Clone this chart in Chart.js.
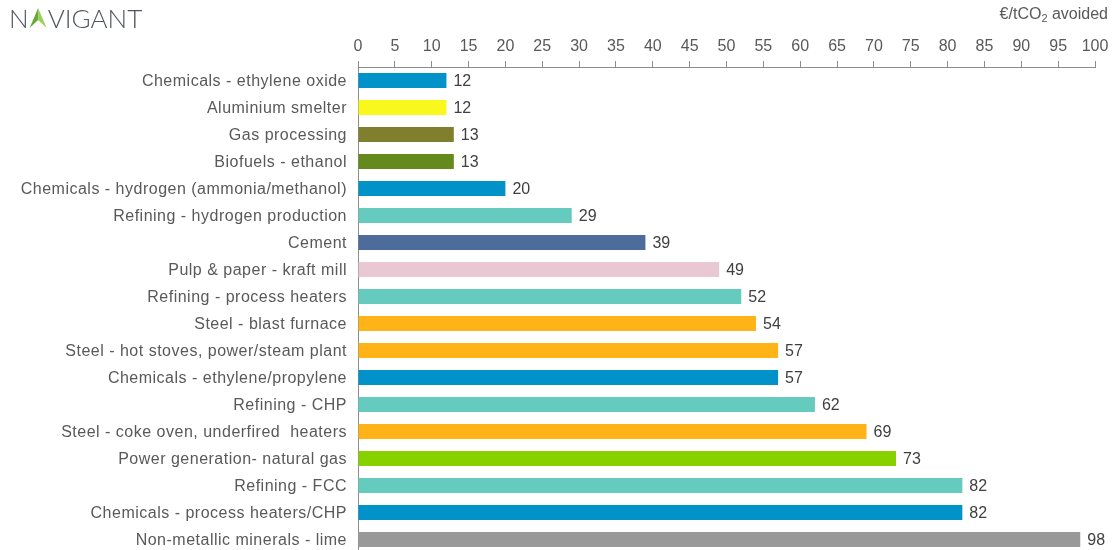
<!DOCTYPE html>
<html>
<head>
<meta charset="utf-8">
<script src="https://cdn.jsdelivr.net/npm/chart.js@4.4.1/dist/chart.umd.min.js"></script>
<style>
  html, body { margin: 0; padding: 0; background: #fff; overflow: hidden; }
  #wrap { width: 1114px; height: 553px; }
</style>
</head>
<body>
<div id="wrap"><canvas id="chart-cost" width="1114" height="553"></canvas></div>
<script>
// ── Capture cost per sector (€/tCO2 avoided) ──
const SECTORS = [
  'Chemicals - ethylene oxide',
  'Aluminium smelter',
  'Gas processing',
  'Biofuels - ethanol',
  'Chemicals - hydrogen (ammonia/methanol)',
  'Refining - hydrogen production',
  'Cement ',
  'Pulp & paper - kraft mill',
  'Refining - process heaters',
  'Steel - blast furnace',
  'Steel - hot stoves, power/steam plant',
  'Chemicals - ethylene/propylene',
  'Refining - CHP',
  'Steel - coke oven, underfired  heaters',
  'Power generation- natural gas',
  'Refining - FCC',
  'Chemicals - process heaters/CHP',
  'Non-metallic minerals - lime'
];
const COSTS = [12, 12, 13, 13, 20, 29, 39, 49, 52, 54, 57, 57, 62, 69, 73, 82, 82, 98];

const BLUE = '#0092c8', TEAL = '#66cbbf', ORANGE = '#ffb316';
const BAR_COLORS = [
  BLUE, '#f8f81c', '#807f2e', '#64891c', BLUE, TEAL, '#4d6b9b', '#e9c7d3', TEAL,
  ORANGE, ORANGE, BLUE, TEAL, ORANGE, '#88d100', TEAL, BLUE, '#999999'
];

const X_MIN = 0, X_MAX = 100, X_STEP = 5;
const UNIT_MAIN = '€/tCO', UNIT_SUB = '2', UNIT_TAIL = ' avoided';

const TXT = '#595959';
const FONT = 'Liberation Sans, Arial, sans-serif';

// category names, drawn by hand so they can get a bit of letter spacing
const categoryLabels = {
  id: 'categoryLabels',
  afterDraw(chart) {
    const { ctx } = chart;
    const y = chart.scales.y;
    ctx.save();
    ctx.font = `16px ${FONT}`;
    ctx.letterSpacing = '0.5px';
    ctx.fillStyle = TXT;
    ctx.textAlign = 'right';
    ctx.textBaseline = 'middle';
    SECTORS.forEach((s, i) => ctx.fillText(s.trimEnd(), 347, y.getPixelForTick(i) + 1));
    ctx.restore();
  }
};

// value labels at bar ends
const valueLabels = {
  id: 'valueLabels',
  afterDatasetsDraw(chart) {
    const { ctx } = chart;
    const meta = chart.getDatasetMeta(0);
    ctx.save();
    ctx.font = `16px ${FONT}`;
    ctx.fillStyle = '#404040';
    ctx.textAlign = 'left';
    ctx.textBaseline = 'middle';
    meta.data.forEach((bar, i) => ctx.fillText(COSTS[i], bar.x + 7, bar.y + 1));
    ctx.restore();
  }
};

// logo + unit caption
const header = {
  id: 'header',
  afterDraw(chart) {
    const { ctx } = chart;
    ctx.save();
    // unit, right aligned with subscript
    ctx.textBaseline = 'alphabetic';
    ctx.fillStyle = TXT;
    const big = `16px ${FONT}`, small = `11px ${FONT}`;
    ctx.font = big;
    const wMain = ctx.measureText(UNIT_MAIN).width, wTail = ctx.measureText(UNIT_TAIL).width;
    ctx.font = small;
    const wSub = ctx.measureText(UNIT_SUB).width;
    let x = 1108 - (wMain + wSub + wTail);
    ctx.font = big; ctx.fillText(UNIT_MAIN, x, 19); x += wMain;
    ctx.font = small; ctx.fillText(UNIT_SUB, x, 22); x += wSub;
    ctx.font = big; ctx.fillText(UNIT_TAIL, x, 19);

    // NAVIGANT wordmark, the A is a green peak
    ctx.font = `300 26px Lato, sans-serif`;
    ctx.fillStyle = '#50555b';
    let lx = 9;
    const base = 28;
    ctx.fillText('N', lx, base);
    lx += ctx.measureText('N').width + 1;
    const aw = 17, ah = 20;
    ctx.fillStyle = '#6aa83a';
    ctx.beginPath();
    ctx.moveTo(lx, base);
    ctx.lineTo(lx + aw * 0.5, base - ah);
    ctx.lineTo(lx + aw * 0.5, base - 8);
    ctx.closePath();
    ctx.fill();
    ctx.fillStyle = '#9ccf5a';
    ctx.beginPath();
    ctx.moveTo(lx + aw * 0.5, base - ah);
    ctx.lineTo(lx + aw, base);
    ctx.lineTo(lx + aw * 0.5, base - 8);
    ctx.closePath();
    ctx.fill();
    lx += aw + 1;
    ctx.fillStyle = '#50555b';
    ctx.fillText('VIGANT', lx, base);
    ctx.restore();
  }
};

new Chart(document.getElementById('chart-cost'), {
  type: 'bar',
  data: {
    labels: SECTORS,
    datasets: [{
      data: COSTS,
      backgroundColor: BAR_COLORS,
      borderWidth: 0,
      categoryPercentage: 1,
      barPercentage: 0.56
    }]
  },
  options: {
    indexAxis: 'y',
    responsive: false,
    animation: false,
    layout: { padding: { left: 0, right: 19, top: 0, bottom: 0 } },
    plugins: { legend: { display: false }, tooltip: { enabled: false } },
    scales: {
      x: {
        position: 'top',
        min: X_MIN, max: X_MAX,
        afterFit: s => { s.height = 67; },
        ticks: { stepSize: X_STEP, color: TXT, font: { size: 16, family: FONT }, padding: 5, maxRotation: 0 },
        grid: { drawOnChartArea: false, drawTicks: true, tickLength: 6, color: '#8c8c8c' },
        border: { display: true, color: '#8c8c8c' }
      },
      y: {
        afterFit: s => { s.width = 358; s.paddingTop = 0; s.paddingBottom = 0; },
        ticks: { display: false },
        grid: { display: false, drawTicks: false },
        border: { display: true, color: '#8c8c8c' }
      }
    }
  },
  plugins: [valueLabels, categoryLabels, header]
});
</script>
</body>
</html>
